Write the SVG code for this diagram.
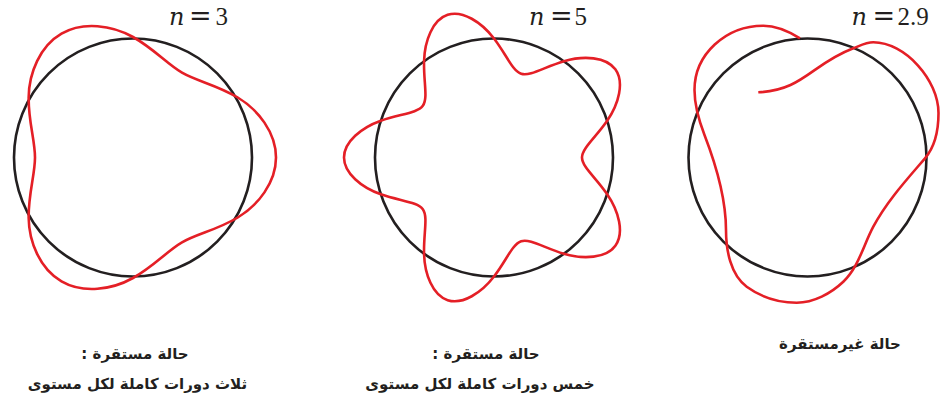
<svg xmlns="http://www.w3.org/2000/svg" width="944" height="398" viewBox="0 0 944 398">
<style>
.orbit{fill:none;stroke:#231f20;stroke-width:2.6}
.wave{fill:none;stroke:#e41f26;stroke-width:2.6;stroke-linejoin:round}
.math{font-family:"Liberation Serif","DejaVu Serif",serif;font-size:25px;fill:#231f20}
.mi{font-family:"DejaVu Serif",serif;font-style:italic;font-size:24px;fill:#231f20}
.eq{font-family:"DejaVu Serif",serif;font-size:27px;fill:#231f20}
.ar{font-family:"DejaVu Sans",sans-serif;font-weight:bold;font-size:15px;fill:#231f20;text-anchor:middle}
</style>
<rect width="944" height="398" fill="#ffffff"/>

<g id="panel-n3">
  <circle class="orbit" cx="133" cy="157.5" r="119"/>
  <path class="wave" d="M276,157.5 C276,132.54 258.07,109.57 237.35,97.25 C216.63,84.93 196.81,81.18 182,72.63 C167.19,64.08 154.03,48.78 133,37 C111.97,25.22 83.11,21.18 61.5,33.66 C39.89,46.14 28.96,73.15 28.65,97.25 C28.34,121.35 35,140.4 35,157.5 C35,174.6 28.34,193.65 28.65,217.75 C28.96,241.85 39.89,268.86 61.5,281.34 C83.11,293.82 111.97,289.78 133,278 C154.03,266.22 167.19,250.92 182,242.37 C196.81,233.82 216.63,230.07 237.35,217.75 C258.07,205.43 276,182.46 276,157.5 Z"/>
  <text class="mi" x="169" y="25">n</text>
  <text class="eq" x="189" y="25">=</text>
  <text class="math" x="215.5" y="25">3</text>
  <text class="ar" direction="rtl" x="135" y="359">حالة مستقرة :</text>
  <text class="ar" direction="rtl" x="137.5" y="389">ثلاث دورات كاملة لكل مستوى</text>
</g>

<g id="panel-n5">
  <circle class="orbit" cx="494" cy="157.5" r="119"/>
  <path class="wave" d="M582,157.5 C582,148.285 595.593,137.599 607.18,120.73 C618.767,103.861 624.583,82.038 615.35,69.33 C606.117,56.622 583.573,55.423 563.95,61.23 C544.327,67.037 529.954,76.647 521.19,73.8 C512.426,70.953 506.462,54.732 494,38.5 C481.538,22.268 462.59,9.976 447.65,14.83 C432.71,19.684 424.591,40.773 424.05,61.23 C423.509,81.687 428.227,98.315 422.81,105.77 C417.393,113.225 400.109,113.893 380.82,120.73 C361.531,127.567 344,141.792 344,157.5 C344,173.208 361.531,187.433 380.82,194.27 C400.109,201.107 417.393,201.775 422.81,209.23 C428.227,216.685 423.509,233.313 424.05,253.77 C424.591,274.227 432.71,295.316 447.65,300.17 C462.59,305.024 481.538,292.732 494,276.5 C506.462,260.268 512.426,244.047 521.19,241.2 C529.954,238.353 544.327,247.963 563.95,253.77 C583.573,259.577 606.117,258.378 615.35,245.67 C624.583,232.962 618.767,211.139 607.18,194.27 C595.593,177.401 582,166.715 582,157.5 Z"/>
  <text class="mi" x="529" y="25">n</text>
  <text class="eq" x="550" y="25">=</text>
  <text class="math" x="574.5" y="25">5</text>
  <text class="ar" direction="rtl" x="486" y="359">حالة مستقرة :</text>
  <text class="ar" direction="rtl" x="480" y="389">خمس دورات كاملة لكل مستوى</text>
</g>

<g id="panel-n29">
  <circle class="orbit" cx="807.5" cy="157.5" r="119"/>
  <path class="wave" d="M758.3,92.3 C803.3,90.3 811.2,64.3 853.3,48.3 C859.8,45.8 866.3,42.3 873.3,42.3 C905,42.3 938.5,80 938.5,113 C938.5,129 935.4,146.1 925,158.3 C906.4,180 886.7,201.5 873.3,226.7 C863.4,245.2 858.6,267.2 843.3,281.7 C830.9,293.4 813.7,302.7 796.7,302.7 C779.2,302.7 760.9,297 746.7,286.7 C730.5,274.9 726,250 726,230 C726,198 716,164.8 704.5,135 C699.1,121 694.5,105 694.5,90 C694.5,54.6 725.5,25.7 763.3,25.7 C776.3,25.7 789,31.4 800,38.3"/>
  <text class="mi" x="851.5" y="25">n</text>
  <text class="eq" x="872.5" y="25">=</text>
  <text class="math" x="897.5" y="25">2.9</text>
  <text class="ar" direction="rtl" x="840" y="349">حالة غيرمستقرة</text>
</g>
</svg>
